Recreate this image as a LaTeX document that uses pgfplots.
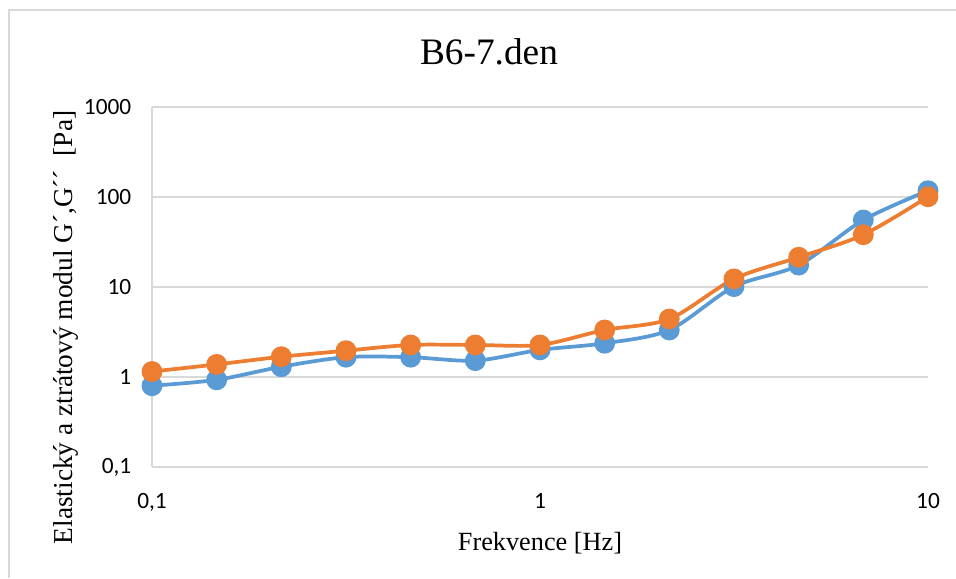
\documentclass[border=0pt]{standalone}
\usepackage{fontspec}
\setmainfont{Liberation Serif}
\newfontfamily\carlito{Carlito}
\usepackage{pgfplots}
\pgfplotsset{compat=1.18}
\definecolor{sblue}{HTML}{5B9BD5}
\definecolor{sorange}{HTML}{ED7D31}
\definecolor{gridc}{HTML}{D9D9D9}
\begin{document}
\begin{tikzpicture}[x=0.75pt,y=0.75pt]
\useasboundingbox (0,0) rectangle (956,578);
\draw[gridc,line width=1.1pt] (9,0) -- (9,568) -- (956,568);
\begin{axis}[
  at={(152pt*0.75,111pt*0.75)}, anchor=south west,
  scale only axis,
  width=582pt, height=270pt,
  xmode=log, ymode=log,
  xmin=0.1, xmax=10, ymin=0.1, ymax=1000,
  axis x line=bottom, axis y line=left,
  axis line style={gridc,line width=1pt,-},
  xtick={0.1,1,10}, xticklabels={{0,1},1,10},
  ytick={0.1,1,10,100,1000}, yticklabels={{0,1},1,10,100,1000},
  minor x tick num=0, minor y tick num=0,
  minor tick length=0pt, major tick length=0pt,
  minor tick style={draw=none}, major tick style={draw=none},
  ymajorgrids, major grid style={gridc,line width=1pt},
  tick label style={font=\carlito\fontsize{17.5}{20}\selectfont},
  xticklabel style={yshift=-16pt},
  yticklabel style={xshift=-12pt},
  clip=false,
]
\addplot[sblue, line width=2.8pt, smooth, mark=*, mark size=6.4pt, mark options={fill=sblue,draw=none}] coordinates {
(0.1,0.80) (0.1468,0.93) (0.2154,1.30) (0.3162,1.66) (0.4642,1.66) (0.6813,1.52) (1,2.0) (1.468,2.37) (2.154,3.33) (3.162,10.1) (4.642,17.5) (6.813,55.5) (10,117.5)};
\addplot[sorange, line width=2.8pt, smooth, mark=*, mark size=6.4pt, mark options={fill=sorange,draw=none}] coordinates {
(0.1,1.15) (0.1468,1.38) (0.2154,1.68) (0.3162,1.96) (0.4642,2.27) (0.6813,2.27) (1,2.27) (1.468,3.33) (2.154,4.41) (3.162,12.3) (4.642,21.4) (6.813,38.1) (10,100.7)};
\end{axis}
\node[anchor=base,font=\fontsize{28}{32}\selectfont] at (489,513) {B6-7.den};
\node[anchor=base,font=\fontsize{19.7}{22}\selectfont] at (540,27) {Frekvence [Hz]};
\node[anchor=base,rotate=90,font=\fontsize{20.5}{22}\selectfont] at (72,250.5) {Elastický a ztrátový modul G´,G´´ \ [Pa]};
\end{tikzpicture}
\end{document}
